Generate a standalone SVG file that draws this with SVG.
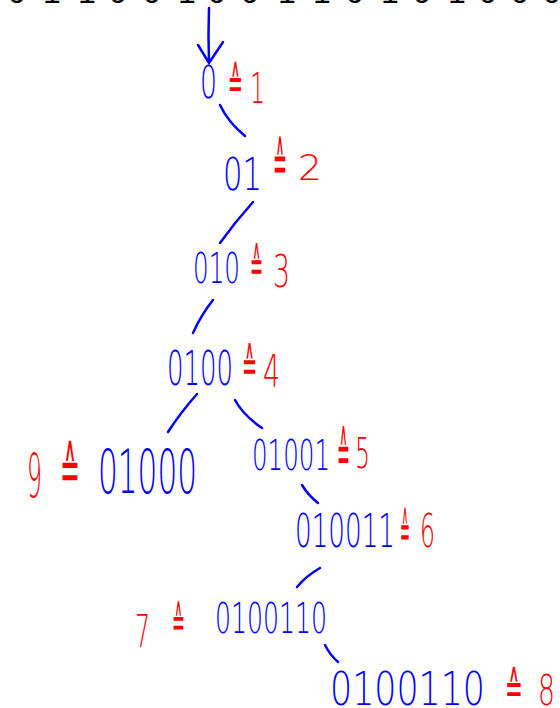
<svg xmlns="http://www.w3.org/2000/svg" width="560" height="708" viewBox="0 0 560 708">
<style>
.b{fill:#0000ff;font-family:"DejaVu Sans","Liberation Sans",sans-serif;font-weight:200}
.r{fill:#ff0000;font-family:"DejaVu Sans","Liberation Sans",sans-serif;font-weight:200}
.e{fill:#ff0000;font-family:"DejaVu Sans",sans-serif;font-weight:200}
.t{fill:#000000;font-family:"Liberation Sans",Arial,sans-serif}
.c{fill:none;stroke:#0000ff;stroke-width:2.5;stroke-linecap:round}
</style>
<rect width="560" height="708" fill="#ffffff"/>
<text class="t" x="17 52 87 118 152 187 217 250 287 322 355 390 422 457 488 520 552" y="3" font-size="32" text-anchor="middle">01100100110101000</text>
<g id="connectors">
<path class="c" d="M209 8 Q208 35 209 62"/>
<path class="c" d="M198 45 L209 63 L223 42"/>
<path class="c" d="M220 105 Q228 122 245 136"/>
<path class="c" d="M253 202 Q235 222 220 243"/>
<path class="c" d="M213 300 Q201 315 193 333"/>
<path class="c" d="M197 394 Q181 412 168 432"/>
<path class="c" d="M235 400 Q243 415 262 428"/>
<path class="c" d="M302 485 Q308 495 318 503"/>
<path class="c" d="M320 568 Q306 576 297 587"/>
<path class="c" d="M325 645 Q330 655 338 662"/>
</g>
<g id="n1"><text class="b" x="200" y="98" font-size="44" textLength="17" lengthAdjust="spacingAndGlyphs">0</text><text class="e" x="228" y="99" font-size="46" textLength="15" lengthAdjust="spacingAndGlyphs">≙</text><text class="r" x="250" y="103" font-size="43" textLength="15" lengthAdjust="spacingAndGlyphs">1</text></g>
<g id="n2"><text class="b" x="223" y="190" font-size="45" textLength="39" lengthAdjust="spacingAndGlyphs">01</text><text class="e" x="273" y="182" font-size="56" textLength="14" lengthAdjust="spacingAndGlyphs">≙</text><text class="r" x="298" y="180" font-size="35" textLength="24" lengthAdjust="spacingAndGlyphs">2</text></g>
<g id="n3"><text class="b" x="193" y="283" font-size="43" textLength="47" lengthAdjust="spacingAndGlyphs">010</text><text class="e" x="250" y="282" font-size="48" textLength="13" lengthAdjust="spacingAndGlyphs">≙</text><text class="r" x="273" y="287" font-size="44" textLength="17" lengthAdjust="spacingAndGlyphs">3</text></g>
<g id="n4"><text class="b" x="167" y="385" font-size="48" textLength="66" lengthAdjust="spacingAndGlyphs">0100</text><text class="e" x="242" y="382" font-size="48" textLength="15" lengthAdjust="spacingAndGlyphs">≙</text><text class="r" x="263" y="387" font-size="44" textLength="17" lengthAdjust="spacingAndGlyphs">4</text></g>
<g id="n9"><text class="r" x="27" y="497" font-size="60" textLength="15" lengthAdjust="spacingAndGlyphs">9</text><text class="e" x="60" y="491" font-size="62" textLength="20" lengthAdjust="spacingAndGlyphs">≙</text><text class="b" x="98" y="493" font-size="60" textLength="99" lengthAdjust="spacingAndGlyphs">01000</text></g>
<g id="n5"><text class="b" x="252" y="470" font-size="42" textLength="78" lengthAdjust="spacingAndGlyphs">01001</text><text class="e" x="337" y="473" font-size="58" textLength="13" lengthAdjust="spacingAndGlyphs">≙</text><text class="r" x="355" y="468" font-size="42" textLength="15" lengthAdjust="spacingAndGlyphs">5</text></g>
<g id="n6"><text class="b" x="295" y="547" font-size="46" textLength="100" lengthAdjust="spacingAndGlyphs">010011</text><text class="e" x="400" y="548" font-size="50" textLength="10" lengthAdjust="spacingAndGlyphs">≙</text><text class="r" x="420" y="547" font-size="46" textLength="15" lengthAdjust="spacingAndGlyphs">6</text></g>
<g id="n7"><text class="r" x="135" y="647" font-size="44" textLength="15" lengthAdjust="spacingAndGlyphs">7</text><text class="e" x="172" y="637" font-size="44" textLength="13" lengthAdjust="spacingAndGlyphs">≙</text><text class="b" x="215" y="633" font-size="42" textLength="112" lengthAdjust="spacingAndGlyphs">0100110</text></g>
<g id="n8"><text class="b" x="330" y="705" font-size="46" textLength="155" lengthAdjust="spacingAndGlyphs">0100110</text><text class="e" x="505" y="704" font-size="46" textLength="18" lengthAdjust="spacingAndGlyphs">≙</text><text class="r" x="538" y="705" font-size="42" textLength="17" lengthAdjust="spacingAndGlyphs">8</text></g>
</svg>
